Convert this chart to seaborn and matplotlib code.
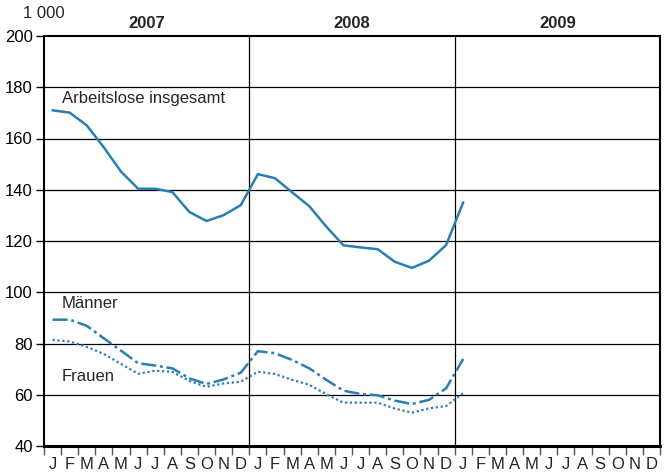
import numpy as np
import pandas as pd
import matplotlib
matplotlib.use("Agg")
import matplotlib.pyplot as plt
import seaborn as sns

# Monatswerte Jan 2007 bis Jan 2009, in 1 000
insgesamt = [171.0, 170.1, 165.1, 156.5, 147.1, 140.4, 140.4, 139.1, 131.3, 127.8, 130.1, 134.0,
             146.1, 144.5, 139.0, 133.6, 125.6, 118.3, 117.5, 116.8, 111.9, 109.5, 112.3, 118.4,
             135.1]
maenner = [89.3, 89.3, 86.9, 82.0, 77.2, 72.3, 71.4, 70.3, 66.4, 64.2, 66.0, 68.6,
           77.0, 76.2, 73.6, 70.3, 65.8, 61.6, 60.3, 59.8, 57.7, 56.4, 58.0, 62.5,
           74.0]
frauen = [81.4, 80.8, 78.7, 75.9, 72.0, 68.2, 69.4, 68.9, 65.4, 63.1, 64.4, 65.1,
          69.0, 68.1, 65.8, 63.9, 60.2, 56.9, 56.9, 56.9, 54.6, 53.0, 54.7, 55.6,
          60.6]
monate = list("JFMAMJJASOND") * 3
jahre = ["2007", "2008", "2009"]

farbe = "#2b7fb0"

sns.set_style("white")
plt.rcParams["font.family"] = ["Liberation Sans", "DejaVu Sans"]

df = pd.DataFrame({
    "x": np.arange(len(insgesamt)) + 0.5,
    "insgesamt": insgesamt,
    "maenner": maenner,
    "frauen": frauen,
})

fig = plt.figure(figsize=(6.71, 4.76), dpi=100)
ax = fig.add_axes([44 / 671, 30 / 476, 616 / 671, 410 / 476])

# Gitter
for v in range(60, 200, 20):
    ax.axhline(v, color="black", lw=0.9, zorder=1)
for xv in (12, 24):
    ax.axvline(xv, color="black", lw=0.9, zorder=1)

sns.lineplot(data=df, x="x", y="insgesamt", ax=ax, color=farbe, lw=1.8, zorder=3)
sns.lineplot(data=df, x="x", y="maenner", ax=ax, color=farbe, lw=1.8, zorder=3,
             linestyle=(0, (6, 1.5, 1.2, 1.5)))
sns.lineplot(data=df, x="x", y="frauen", ax=ax, color=farbe, lw=1.6, zorder=3,
             linestyle=(0, (1, 1.2)))

ax.set_xlim(0, 36)
ax.set_ylim(40, 200)
ax.set_xlabel("")
ax.set_ylabel("")

ax.set_yticks(range(40, 201, 20))
ax.tick_params(axis="y", labelsize=12, length=6, width=1, direction="out",
               left=True, pad=2, colors="black")

ax.set_xticks(range(0, 37))
ax.set_xticklabels([])
ax.set_xticks(np.arange(36) + 0.5, minor=True)
ax.set_xticklabels(monate, minor=True)
ax.tick_params(axis="x", which="major", length=6.5, width=1, color="#555555",
               direction="out", bottom=True)
ax.tick_params(axis="x", which="minor", length=0, labelsize=12, pad=8)

for s in ax.spines.values():
    s.set_color("black")
    s.set_linewidth(1.5)
ax.spines["bottom"].set_linewidth(2.2)

for i, j in enumerate(jahre):
    ax.text(6 + 12 * i, 204.9, j, ha="center", va="center", fontsize=12,
            fontweight="bold")
ax.text(0, 208.8, "1 000", ha="center", va="center", fontsize=12)

ax.text(1.05, 175.5, "Arbeitslose insgesamt", fontsize=12, va="center")
ax.text(1.05, 95.8, "Männer", fontsize=12, va="center")
ax.text(1.05, 67.3, "Frauen", fontsize=12, va="center")

fig.savefig("out.png", dpi=100)
